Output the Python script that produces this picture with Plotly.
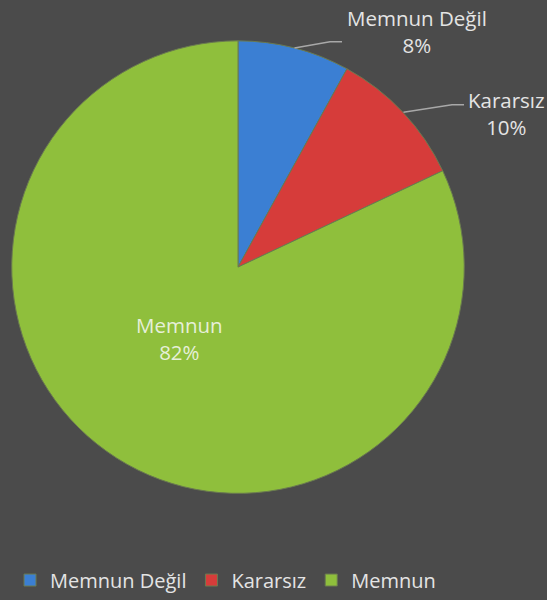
import math
import plotly.graph_objects as go

labels = ["Memnun Değil", "Kararsız", "Memnun"]
values = [8, 10, 82]
colors = ["#3b7fd3", "#d63c3a", "#8fbf3c"]

W, H = 547, 600
cx, cy, R = 238, 268, 227
FONT = "'Open Sans', sans-serif"

fig = go.Figure()
fig.add_trace(go.Pie(
    labels=labels,
    values=values,
    sort=False,
    direction="clockwise",
    rotation=0,
    marker=dict(colors=colors, line=dict(color="#6a7a50", width=1)),
    textinfo="none",
    hoverinfo="label+percent",
    domain=dict(x=[(cx - R) / W, (cx + R) / W], y=[1 - (cy + R) / H, 1 - (cy - R) / H]),
))

def px(x, y):
    return x / W, 1 - y / H

# label centres and leader-line knees (pixel layout)
label_pos = [(417, 32), (506, 114), (179, 340)]
knees = [(330, 42), (452, 105)]

total = sum(values)
cum = 0
annotations = []
shapes = []
for i, (lab, v) in enumerate(zip(labels, values)):
    pct = round(100 * v / total)
    mid = (cum + v / 2) / total * 2 * math.pi
    cum += v
    sx, sy = math.sin(mid), -math.cos(mid)
    if i < 2:
        ex, ey = cx + R * sx, cy + R * sy
        kx, ky = knees[i]
        hx = kx + 12
        x0, y0 = px(ex, ey); x1, y1 = px(kx, ky); x2, y2 = px(hx, ky)
        shapes.append(dict(type="path", xref="paper", yref="paper",
                           path=f"M {x0} {y0} L {x1} {y1} L {x2} {y2}",
                           line=dict(color="#a8a8a8", width=1.5)))
        col = "#e4e4e4"
    else:
        col = "#e6efd9"
    ax_, ay_ = px(*label_pos[i])
    annotations.append(dict(x=ax_, y=ay_, xref="paper", yref="paper",
                            text=f"{lab}<br>{pct}%", showarrow=False,
                            font=dict(family=FONT, size=20.5, color=col),
                            align="center", xanchor="center", yanchor="middle"))

fig.update_layout(
    width=W, height=H,
    margin=dict(l=0, r=0, t=0, b=0),
    paper_bgcolor="#4b4b4b",
    plot_bgcolor="#4b4b4b",
    annotations=annotations,
    shapes=shapes,
    showlegend=True,
    legend=dict(orientation="h", x=10 / W, xanchor="left", y=1 - 582 / H, yanchor="middle",
                font=dict(family=FONT, size=20, color="#e4e4e4"),
                itemwidth=30, traceorder="normal", bgcolor="rgba(0,0,0,0)"),
)
fig.write_html("out.html", config={"displayModeBar": False},
               post_script="document.body.style.margin='0';document.body.style.background='#4b4b4b';")
